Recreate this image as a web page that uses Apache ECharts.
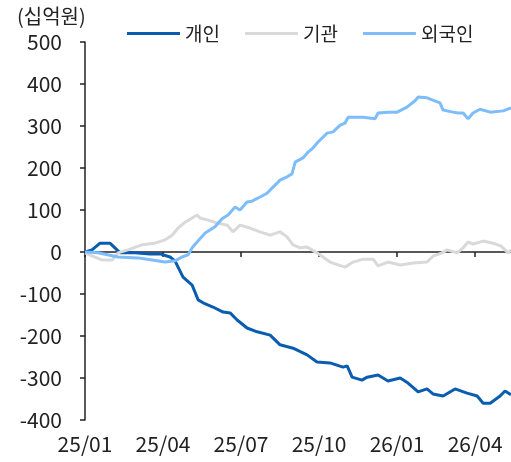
<!DOCTYPE html>
<html>
<head>
<meta charset="utf-8">
<script src="https://cdn.jsdelivr.net/npm/echarts@6/dist/echarts.min.js"></script>
<style>
	html, body { margin: 0; padding: 0; background: #fff; }
	#chart { width: 511px; height: 462px; }
</style>
</head>
<body>
<div id="chart"></div>
<script>
// x = months since 2025-01-01, y = cumulative net buying (십억원)
var seriesNames = ['개인', '기관', '외국인'];
var tickMonths = [0, 3, 6, 9, 12, 15];
var tickLabels = ['25/01', '25/04', '25/07', '25/10', '26/01', '26/04'];

var individual = [
	[0,0],[0.27,5],[0.58,21],[0.96,21],[1.15,10],[1.35,-2],[1.92,-2],[2.5,-5],[2.92,-5],
	[3.27,-12],[3.46,-21],[3.77,-60],[4.12,-79],[4.35,-114],[4.54,-121],[4.92,-131],
	[5.31,-143],[5.58,-145],[5.85,-162],[6.23,-181],[6.62,-190],[7.12,-198],[7.5,-221],
	[8.0,-229],[8.54,-245],[8.92,-262],[9.42,-264],[9.92,-274],[10.08,-271],[10.27,-298],
	[10.65,-305],[10.85,-298],[11.27,-293],[11.65,-307],[12.12,-300],[12.42,-312],
	[12.81,-333],[13.15,-326],[13.38,-338],[13.77,-343],[14.23,-326],[14.69,-336],
	[15.08,-343],[15.31,-360],[15.58,-360],[15.96,-343],[16.15,-331],[16.38,-340]
];

var institution = [
	[0,-2],[0.38,-12],[0.65,-19],[1.04,-19],[1.27,-2],[1.65,5],[2.19,17],[2.69,21],
	[3.08,29],[3.35,40],[3.58,57],[3.85,71],[4.12,81],[4.31,88],[4.42,81],[4.73,76],
	[5.08,69],[5.46,64],[5.69,48],[5.96,64],[6.35,57],[6.73,48],[7.12,40],[7.5,48],
	[7.77,36],[8.0,17],[8.27,10],[8.54,12],[8.92,-2],[9.42,-24],[10.0,-36],[10.31,-24],
	[10.69,-17],[11.08,-17],[11.27,-33],[11.65,-24],[12.12,-31],[12.62,-26],[13.15,-24],
	[13.38,-10],[13.73,-2],[13.92,5],[14.31,-2],[14.54,10],[14.73,24],[14.92,19],
	[15.31,26],[15.69,21],[16.0,14],[16.27,-2],[16.38,5]
];

var foreign = [
	[0,0],[0.5,-2],[1.27,-12],[2.04,-14],[2.58,-19],[3.08,-24],[3.46,-21],[3.73,-12],
	[3.96,-7],[4.12,10],[4.31,24],[4.62,45],[5.0,60],[5.27,79],[5.5,88],[5.77,107],
	[5.96,100],[6.23,119],[6.42,121],[6.73,131],[7.0,140],[7.19,152],[7.5,171],[7.77,179],
	[7.96,186],[8.08,214],[8.38,224],[8.58,238],[8.77,248],[8.96,262],[9.31,283],
	[9.54,286],[9.81,302],[10.0,307],[10.12,321],[10.46,321],[10.69,321],[11.15,317],
	[11.27,331],[11.65,333],[12.0,333],[12.38,345],[12.69,360],[12.81,369],[13.15,367],
	[13.65,355],[13.77,338],[14.15,333],[14.35,331],[14.54,331],[14.73,317],[14.92,331],
	[15.19,340],[15.58,333],[16.08,336],[16.38,343]
];

var colors = ['#0a5cb0', '#d9d9d9', '#7dbdfb'];
var font = '"Noto Sans CJK KR", "Noto Sans", sans-serif';
var xMax = 16.38;

var chart = echarts.init(document.getElementById('chart'));

function makeLine(name, data, color) {
	return {
		name: name,
		type: 'line',
		data: data,
		symbol: 'none',
		xAxisIndex: 0,
		yAxisIndex: 0,
		lineStyle: { color: color, width: 3 },
		itemStyle: { color: color },
		animation: false
	};
}

var gridBox = { left: 85, right: 0, top: 42, bottom: 42 };

chart.setOption({
	animation: false,
	textStyle: { fontFamily: font, color: '#222' },
	title: {
		text: '(십억원)',
		left: 17,
		top: 6,
		padding: 0,
		textStyle: { fontFamily: font, fontSize: 20, fontWeight: 'normal', color: '#222' }
	},
	legend: {
		left: 127,
		top: 24,
		padding: 0,
		icon: 'rect',
		itemWidth: 53,
		itemHeight: 3,
		itemGap: 25,
		textStyle: { fontFamily: font, fontSize: 19, color: '#222' },
		data: seriesNames
	},
	// grid 0 holds the lines, grid 1 (same box) only carries the bottom date labels
	grid: [gridBox, gridBox],
	xAxis: [{
		gridIndex: 0,
		type: 'value',
		min: 0,
		max: xMax,
		interval: 3,
		axisLine: { show: true, onZero: true, lineStyle: { color: '#222', width: 1.5 } },
		axisTick: { show: true, length: 5, customValues: tickMonths, lineStyle: { color: '#222', width: 1.5 } },
		axisLabel: { show: false },
		splitLine: { show: false }
	}, {
		gridIndex: 1,
		type: 'value',
		position: 'bottom',
		min: 0,
		max: xMax,
		interval: 3,
		axisLine: { show: false, onZero: false },
		axisTick: { show: false },
		splitLine: { show: false },
		axisLabel: {
			customValues: tickMonths,
			margin: 14,
			fontSize: 21,
			color: '#222',
			fontFamily: font,
			formatter: function(v) {
				var i = tickMonths.indexOf(v);
				return i >= 0 ? tickLabels[i] : '';
			}
		}
	}],
	yAxis: [{
		gridIndex: 0,
		type: 'value',
		min: -400,
		max: 500,
		interval: 100,
		axisLine: { show: true, lineStyle: { color: '#222', width: 1.5 } },
		axisTick: { show: true, length: 5, lineStyle: { color: '#222', width: 1.5 } },
		splitLine: { show: false },
		axisLabel: { margin: 23, fontSize: 21, color: '#222', fontFamily: font }
	}, {
		gridIndex: 1,
		type: 'value',
		min: -400,
		max: 500,
		show: false
	}],
	series: [
		makeLine(seriesNames[0], individual, colors[0]),
		makeLine(seriesNames[1], institution, colors[1]),
		makeLine(seriesNames[2], foreign, colors[2])
	]
});
</script>
</body>
</html>
